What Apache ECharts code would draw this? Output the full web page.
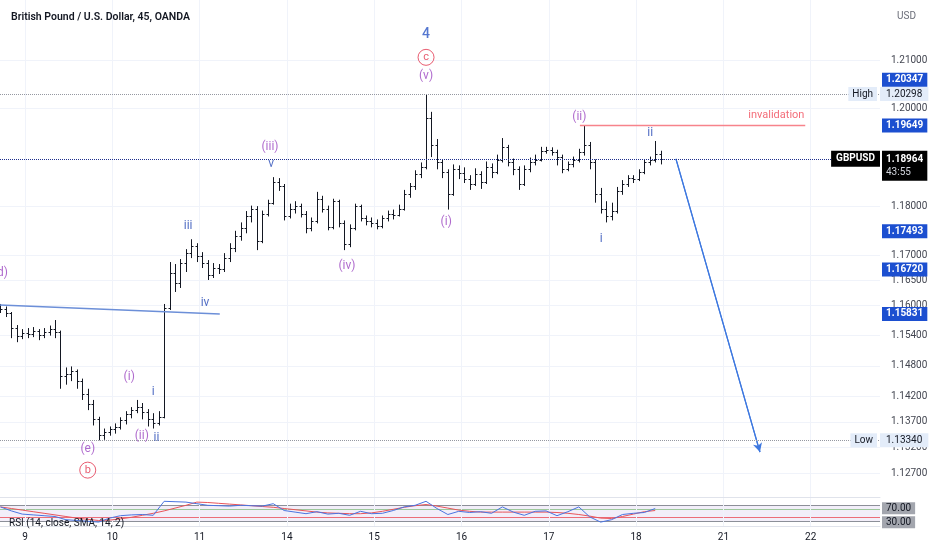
<!DOCTYPE html>
<html>
<head>
<meta charset="utf-8">
<script src="https://cdn.jsdelivr.net/npm/echarts@6/dist/echarts.min.js"></script>
<style>
  html, body { margin: 0; padding: 0; background: #fff; }
  #main { width: 932px; height: 550px; }
</style>
</head>
<body>
<div id="main"></div>
<script>
// GBPUSD 45m, elliott wave count + RSI pane
var dayStarts = [0, 16, 32, 48, 64, 80, 96, 112, 128, 144];
var dayLabels = ['9', '10', '11', '14', '15', '16', '17', '18', '21', '22'];

// bar k sits at x = k + 0.5 (day 9 starts at 0)
var firstBar = -5;
// [open, high, low, close]
var bars = [
  [1.1599, 1.1603, 1.1585, 1.1593], [1.1593, 1.1598, 1.1577, 1.1585], [1.1585, 1.1587, 1.1535, 1.1555],
  [1.1555, 1.1561, 1.1527, 1.1540], [1.1540, 1.1553, 1.1533, 1.1545],
  [1.1545, 1.1555, 1.1535, 1.1543], [1.1543, 1.1557, 1.1537, 1.1550], [1.1550, 1.1553, 1.1531, 1.1541],
  [1.1541, 1.1555, 1.1535, 1.1547], [1.1547, 1.1560, 1.1540, 1.1553], [1.1553, 1.1571, 1.1535, 1.1547],
  [1.1547, 1.1550, 1.1435, 1.1460], [1.1460, 1.1477, 1.1443, 1.1465], [1.1465, 1.1479, 1.1450, 1.1470],
  [1.1470, 1.1473, 1.1435, 1.1450], [1.1450, 1.1455, 1.1413, 1.1425], [1.1425, 1.1435, 1.1393, 1.1405],
  [1.1405, 1.1413, 1.1363, 1.1375], [1.1375, 1.1380, 1.1334, 1.1345], [1.1345, 1.1357, 1.1335, 1.1351],
  [1.1351, 1.1361, 1.1343, 1.1357],
  [1.1357, 1.1367, 1.1347, 1.1360], [1.1360, 1.1379, 1.1355, 1.1373], [1.1373, 1.1391, 1.1365, 1.1385],
  [1.1385, 1.1399, 1.1377, 1.1393], [1.1393, 1.1413, 1.1387, 1.1400], [1.1400, 1.1407, 1.1375, 1.1390],
  [1.1390, 1.1395, 1.1361, 1.1375], [1.1375, 1.1387, 1.1357, 1.1367], [1.1367, 1.1391, 1.1363, 1.1380],
  [1.1380, 1.1603, 1.1377, 1.1595], [1.1595, 1.1687, 1.1591, 1.1665], [1.1665, 1.1683, 1.1627, 1.1645],
  [1.1645, 1.1693, 1.1635, 1.1685], [1.1685, 1.1713, 1.1667, 1.1705], [1.1705, 1.1733, 1.1695, 1.1720],
  [1.1720, 1.1725, 1.1687, 1.1700],
  [1.1700, 1.1707, 1.1675, 1.1685], [1.1685, 1.1691, 1.1651, 1.1660], [1.1660, 1.1685, 1.1655, 1.1675],
  [1.1675, 1.1683, 1.1663, 1.1673], [1.1673, 1.1705, 1.1667, 1.1695], [1.1695, 1.1725, 1.1687, 1.1715],
  [1.1715, 1.1750, 1.1707, 1.1740], [1.1740, 1.1767, 1.1730, 1.1755], [1.1755, 1.1790, 1.1745, 1.1780],
  [1.1780, 1.1801, 1.1767, 1.1795], [1.1795, 1.1800, 1.1711, 1.1730], [1.1730, 1.1791, 1.1725, 1.1785],
  [1.1785, 1.1813, 1.1779, 1.1807], [1.1807, 1.1859, 1.1803, 1.1850], [1.1850, 1.1857, 1.1831, 1.1840],
  [1.1840, 1.1845, 1.1771, 1.1780],
  [1.1780, 1.1805, 1.1775, 1.1795], [1.1795, 1.1810, 1.1785, 1.1800], [1.1800, 1.1805, 1.1777, 1.1785],
  [1.1785, 1.1790, 1.1745, 1.1755], [1.1755, 1.1777, 1.1749, 1.1770], [1.1770, 1.1829, 1.1765, 1.1815],
  [1.1815, 1.1821, 1.1787, 1.1795], [1.1795, 1.1801, 1.1751, 1.1757], [1.1757, 1.1815, 1.1753, 1.1810],
  [1.1810, 1.1813, 1.1757, 1.1765], [1.1765, 1.1771, 1.1711, 1.1723], [1.1723, 1.1763, 1.1717, 1.1755],
  [1.1755, 1.1805, 1.1751, 1.1800], [1.1800, 1.1803, 1.1769, 1.1775], [1.1775, 1.1781, 1.1761, 1.1770],
  [1.1770, 1.1777, 1.1757, 1.1765],
  [1.1765, 1.1773, 1.1753, 1.1760], [1.1760, 1.1781, 1.1755, 1.1775], [1.1775, 1.1791, 1.1769, 1.1785],
  [1.1785, 1.1793, 1.1773, 1.1783], [1.1783, 1.1803, 1.1779, 1.1795], [1.1795, 1.1833, 1.1791, 1.1825],
  [1.1825, 1.1847, 1.1817, 1.1840], [1.1840, 1.1873, 1.1833, 1.1865], [1.1865, 1.1889, 1.1857, 1.1880],
  [1.1880, 1.20298, 1.1875, 1.1980], [1.1980, 1.1993, 1.1900, 1.1925], [1.1925, 1.1937, 1.1875, 1.1890],
  [1.1890, 1.1895, 1.1857, 1.1870], [1.1870, 1.1875, 1.1793, 1.1825], [1.1825, 1.1885, 1.1821, 1.1875],
  [1.1875, 1.1883, 1.1855, 1.1867],
  [1.1867, 1.1879, 1.1847, 1.1855], [1.1855, 1.1863, 1.1833, 1.1845], [1.1845, 1.1877, 1.1841, 1.1865],
  [1.1865, 1.1871, 1.1835, 1.1850], [1.1850, 1.1891, 1.1845, 1.1880], [1.1880, 1.1887, 1.1857, 1.1870],
  [1.1870, 1.1905, 1.1865, 1.1895], [1.1895, 1.1939, 1.1889, 1.1920], [1.1920, 1.1925, 1.1881, 1.1890],
  [1.1890, 1.1897, 1.1863, 1.1875], [1.1875, 1.1881, 1.1833, 1.1845], [1.1845, 1.1883, 1.1841, 1.1875],
  [1.1875, 1.1899, 1.1869, 1.1890], [1.1890, 1.1905, 1.1883, 1.1895], [1.1895, 1.1921, 1.1891, 1.1913],
  [1.1913, 1.1921, 1.1907, 1.1915],
  [1.1915, 1.1920, 1.1903, 1.1911], [1.1911, 1.1915, 1.1883, 1.1900], [1.1900, 1.1905, 1.1867, 1.1875],
  [1.1875, 1.1891, 1.1871, 1.1885], [1.1885, 1.1901, 1.1879, 1.1895], [1.1895, 1.1917, 1.1889, 1.1910],
  [1.1910, 1.19649, 1.1903, 1.1925], [1.1925, 1.1931, 1.1875, 1.1890], [1.1890, 1.1895, 1.1807, 1.1825],
  [1.1825, 1.1837, 1.1785, 1.1795], [1.1795, 1.1810, 1.1767, 1.1780], [1.1780, 1.1807, 1.1771, 1.1790],
  [1.1790, 1.1839, 1.1785, 1.1830], [1.1830, 1.1853, 1.1823, 1.1845], [1.1845, 1.1863, 1.1839, 1.1857],
  [1.1857, 1.1863, 1.1847, 1.1855],
  [1.1855, 1.1875, 1.1851, 1.1870], [1.1870, 1.1895, 1.1865, 1.1890], [1.1890, 1.1901, 1.1883, 1.1895],
  [1.1895, 1.1933, 1.1889, 1.1907], [1.1907, 1.1913, 1.1885, 1.18964]
];

var priceTicks = [1.21, 1.20, 1.18, 1.17, 1.165, 1.16, 1.154, 1.148, 1.142, 1.137, 1.132, 1.127];
var lastPrice = 1.18964;
var countdown = '43:55';
var highPrice = 1.20298;
var lowPrice = 1.13340;
var drawingPrices = [1.20347, 1.19649, 1.17493, 1.16720, 1.15831];

var trendLine = [[-4.58, 1.1601], [35.7, 1.15831]];
var invalidLine = [[101.7, 1.19649], [143, 1.19649]];
var projection = [[119.3, 1.18964], [134.7, 1.1311]];

// wave labels: [x, price, text]
var minorWaves = [
  [-4.5, 1.1665, '(d)'], [11.5, 1.1317, '(e)'], [19.1, 1.1458, '(i)'], [21.4, 1.1342, '(ii)'],
  [44.9, 1.1920, '(iii)'], [59.0, 1.1679, '(iv)'], [73.5, 1.2067, '(v)'],
  [77.2, 1.1767, '(i)'], [101.6, 1.1982, '(ii)']
];
var minuteWaves = [
  [23.5, 1.1428, 'i'], [24.1, 1.1338, 'ii'], [29.9, 1.1759, 'iii'], [33.0, 1.1605, 'iv'],
  [45.1, 1.1885, 'v'], [105.6, 1.1733, 'i'], [114.6, 1.1949, 'ii']
];
var circledWaves = [[11.5, 1.1276, 'b'], [73.5, 1.2106, 'c']];
var primaryWaves = [[73.5, 1.2154, '4']];
var notes = [[137.7, 1.1986, 'invalidation']];

// RSI pane, one reading every 2 bars from x = -4.5
var rsiStart = -4.5;
var rsiStep = 2;
var rsiValues = [66, 56, 48, 46, 44, 42, 34, 32, 30, 28, 38, 44, 46, 47, 45, 80, 79, 78, 74, 70,
  69, 68, 70, 69, 68, 74, 57, 53, 49, 54, 48, 50, 45, 55, 49, 50, 57, 66, 70, 80,
  62, 47, 55, 52, 54, 50, 66, 53, 45, 55, 56, 44, 54, 66, 41, 28, 34, 47, 50, 52, 62];
var rsiMa = [66, 62, 58, 54, 50, 46, 42, 38, 35, 32, 33, 36, 40, 45, 50, 56, 63, 70, 78, 77,
  75, 73, 71, 69, 67, 65, 62, 59, 56, 53, 51, 50, 49, 49, 51, 55, 60, 65, 69, 72,
  68, 63, 58, 55, 53, 53, 53, 53, 53, 53, 53, 52, 50, 47, 43, 38, 37, 42, 48, 54, 57];
var rsiLevels = [70, 60, 40, 30];

var FONT = 'Roboto';
var chart = echarts.init(document.getElementById('main'));

var ohlcData = bars.map(function (b, i) {
  return [firstBar + i + 0.5, b[0], b[1], b[2], b[3]];
});
var rsiData = rsiValues.map(function (v, i) { return [rsiStart + i * rsiStep, v]; });
var rsiMaData = rsiMa.map(function (v, i) { return [rsiStart + i * rsiStep, v]; });

function renderBar(params, api) {
  var x = api.value(0);
  var o = api.coord([x, api.value(1)]);
  var h = api.coord([x, api.value(2)]);
  var l = api.coord([x, api.value(3)]);
  var c = api.coord([x, api.value(4)]);
  var cx = Math.round(o[0]) + 0.5;
  var oy = Math.round(o[1]) + 0.5;
  var cy = Math.round(c[1]) + 0.5;
  var st = { stroke: '#131722', lineWidth: 1 };
  return {
    type: 'group',
    children: [
      { type: 'line', shape: { x1: cx, y1: h[1], x2: cx, y2: l[1] }, style: st },
      { type: 'line', shape: { x1: cx - 2, y1: oy, x2: cx, y2: oy }, style: st },
      { type: 'line', shape: { x1: cx, y1: cy, x2: cx + 2, y2: cy }, style: st }
    ]
  };
}

function labelSeries(list, label) {
  return {
    type: 'scatter', xAxisIndex: 0, yAxisIndex: 0, z: 10, silent: true,
    symbolSize: 1, itemStyle: { color: 'transparent' },
    data: list.map(function (w) { return { value: [w[0], w[1]], name: w[2] }; }),
    label: Object.assign({ show: true, position: 'inside', formatter: '{b}', fontFamily: FONT }, label)
  };
}

var HIDDEN = { color: 'rgba(0,0,0,0)', width: 1, opacity: 1 };

// grid lines + axis tick labels (drawn under the bars)
var gridMarks = priceTicks.map(function (t) {
  return {
    yAxis: t,
    lineStyle: { color: '#f0f3fa', width: 1, type: 'solid' },
    label: { show: true, position: 'end', distance: 11, formatter: t.toFixed(5), color: '#434651', fontSize: 10, fontFamily: FONT }
  };
}).concat(dayStarts.map(function (d) {
  return { xAxis: d, lineStyle: { color: '#f0f3fa', width: 1, type: 'solid' }, label: { show: false } };
}));

// price level tags on the right
var boxBase = { show: true, position: 'end', distance: 2, fontSize: 10, fontFamily: FONT, padding: [2, 4], opacity: 1 };
var levelMarks = drawingPrices.map(function (p, i) {
  return {
    yAxis: p,
    lineStyle: HIDDEN,
    label: Object.assign({}, boxBase, {
      formatter: p.toFixed(5), backgroundColor: '#1c4fd0', color: '#fff', fontWeight: 'bold',
      offset: [0, i === 0 ? -12 : 0]
    })
  };
}).concat([
  { yAxis: highPrice, lineStyle: { color: '#9598a1', type: 'dotted', width: 1 },
    label: Object.assign({}, boxBase, { distance: 0, formatter: highPrice.toFixed(5), backgroundColor: '#e3ecf9', color: '#131722', padding: [2, 6] }) },
  { yAxis: highPrice, lineStyle: HIDDEN,
    label: Object.assign({}, boxBase, { position: 'insideEnd', distance: 3, formatter: 'High', backgroundColor: '#e3ecf9', color: '#131722' }) },
  { yAxis: lowPrice, lineStyle: { color: '#9598a1', type: 'dotted', width: 1 },
    label: Object.assign({}, boxBase, { distance: 0, formatter: lowPrice.toFixed(5), backgroundColor: '#e3ecf9', color: '#131722', padding: [2, 6] }) },
  { yAxis: lowPrice, lineStyle: HIDDEN,
    label: Object.assign({}, boxBase, { position: 'insideEnd', distance: 3, formatter: 'Low', backgroundColor: '#e3ecf9', color: '#131722' }) },
  { yAxis: lastPrice, lineStyle: { color: '#1e2f8c', type: 'dotted', width: 1 },
    label: Object.assign({}, boxBase, {
      formatter: '{p|' + lastPrice.toFixed(5) + '}\n{t|' + countdown + '}', backgroundColor: '#000', offset: [0, 7],
      rich: { p: { color: '#fff', fontWeight: 'bold', fontSize: 10, lineHeight: 13, fontFamily: FONT },
              t: { color: '#d1d4dc', fontSize: 10, lineHeight: 13, fontFamily: FONT } }
    }) },
  { yAxis: lastPrice, lineStyle: HIDDEN,
    label: Object.assign({}, boxBase, { position: 'insideEnd', distance: 0, formatter: 'GBPUSD', backgroundColor: '#000', color: '#fff', fontWeight: 'bold', padding: [3, 5] }) }
]);

var rsiMarks = rsiLevels.map(function (lv) {
  var col = lv === 60 ? '#9cc79a' : (lv === 40 ? '#ec6d78' : '#8c8f98');
  var m = { yAxis: lv, lineStyle: { color: col, width: 1, type: 'solid' }, label: { show: false } };
  if (lv === 70 || lv === 30) {
    m.label = { show: true, position: 'end', distance: 2, formatter: lv.toFixed(2), backgroundColor: '#a3a6ae',
      color: '#131722', fontSize: 10, fontFamily: FONT, padding: [1, 4], offset: [0, lv === 70 ? 3 : 1] };
  }
  return m;
}).concat(dayStarts.map(function (d) {
  return { xAxis: d, lineStyle: { color: '#f0f3fa', width: 1, type: 'solid' }, label: { show: false } };
}));

var xMin = -4.58, xMax = 156.7;

var option = {
  animation: false,
  backgroundColor: '#ffffff',
  textStyle: { fontFamily: FONT },
  title: [
    { text: 'British Pound / U.S. Dollar, 45, OANDA', left: 6, top: 7,
      textStyle: { fontSize: 10.5, fontWeight: 600, color: '#131722', fontFamily: FONT } },
    { text: 'USD', left: 892, top: 6, textStyle: { fontSize: 10, fontWeight: 'normal', color: '#6a6d78', fontFamily: FONT } },
    { text: 'RSI (14, close, SMA, 14, 2)', left: 4, top: 513, textStyle: { fontSize: 10, fontWeight: 'normal', color: '#131722', fontFamily: FONT } }
  ],
  grid: [
    { left: 0, right: 52, top: 0, height: 497 },
    { left: 0, right: 52, top: 498, height: 28 }
  ],
  xAxis: [
    { type: 'value', gridIndex: 0, min: xMin, max: xMax,
      axisLine: { show: true, lineStyle: { color: '#e0e3eb' } }, axisTick: { show: false },
      axisLabel: { show: false }, splitLine: { show: false } },
    { type: 'value', gridIndex: 1, min: xMin, max: xMax,
      axisLine: { show: true, lineStyle: { color: '#e0e3eb' } }, axisTick: { show: false },
      axisLabel: {
        show: true, customValues: dayStarts, margin: 6, color: '#131722', fontSize: 10, fontFamily: FONT,
        formatter: function (v) { var i = dayStarts.indexOf(v); return i >= 0 ? dayLabels[i] : ''; }
      },
      splitLine: { show: false } }
  ],
  yAxis: [
    { type: 'log', gridIndex: 0, position: 'right', min: 1.1224, max: 1.2226,
      axisLine: { show: false }, axisTick: { show: false }, axisLabel: { show: false }, splitLine: { show: false } },
    { type: 'value', gridIndex: 1, position: 'right', min: 18.25, max: 88.25,
      axisLine: { show: false }, axisTick: { show: false }, axisLabel: { show: false }, splitLine: { show: false } }
  ],
  series: [
    { name: 'trend', type: 'line', xAxisIndex: 0, yAxisIndex: 0, data: trendLine, symbol: 'none', z: 3,
      lineStyle: { color: '#6c8fd8', width: 1.5 },
      markLine: { z: 1, silent: true, symbol: 'none', precision: 6, animation: false, data: gridMarks } },
    { name: 'GBPUSD', type: 'custom', xAxisIndex: 0, yAxisIndex: 0, z: 2, clip: true,
      renderItem: renderBar, encode: { x: 0, y: [1, 2, 3, 4] }, data: ohlcData,
      markLine: { z: 6, silent: true, symbol: 'none', precision: 6, animation: false, data: levelMarks } },
    { name: 'invalidation', type: 'line', xAxisIndex: 0, yAxisIndex: 0, data: invalidLine, symbol: 'none', z: 3,
      lineStyle: { color: '#f7838b', width: 1.5 } },
    { name: 'projection', type: 'line', xAxisIndex: 0, yAxisIndex: 0, data: projection, symbol: 'none', z: 3,
      lineStyle: { color: '#3d78e0', width: 1.2 },
      markLine: { silent: true, symbol: ['none', 'arrow'], symbolSize: [7, 9], precision: 6, animation: false,
        lineStyle: { color: '#3d78e0', width: 1.2, type: 'solid' }, label: { show: false },
        data: [[{ coord: projection[0] }, { coord: projection[1] }]] } },
    labelSeries(minorWaves, { color: '#9b45c0', fontSize: 12 }),
    labelSeries(minuteWaves, { color: '#2548b5', fontSize: 12 }),
    labelSeries(circledWaves, { color: '#e2334c', fontSize: 11, borderColor: '#e2334c', borderWidth: 1,
      borderRadius: 9, width: 16, height: 16, lineHeight: 16, align: 'center', verticalAlign: 'middle' }),
    labelSeries(primaryWaves, { color: '#2a55c4', fontSize: 14, fontWeight: 500 }),
    labelSeries(notes, { color: '#f04858', fontSize: 11 }),
    { name: 'RSI-based MA', type: 'line', xAxisIndex: 1, yAxisIndex: 1, data: rsiMaData, symbol: 'none', z: 3,
      lineStyle: { color: '#e8545a', width: 1 },
      markArea: { silent: true, z: 1, itemStyle: { color: 'rgba(149,117,205,0.12)' }, data: [[{ yAxis: 30 }, { yAxis: 70 }]] },
      markLine: { z: 2, silent: true, symbol: 'none', precision: 6, animation: false, data: rsiMarks } },
    { name: 'RSI', type: 'line', xAxisIndex: 1, yAxisIndex: 1, data: rsiData, symbol: 'none', z: 4,
      lineStyle: { color: '#4a74e0', width: 1 } }
  ]
};

chart.setOption(option);
</script>
</body>
</html>
